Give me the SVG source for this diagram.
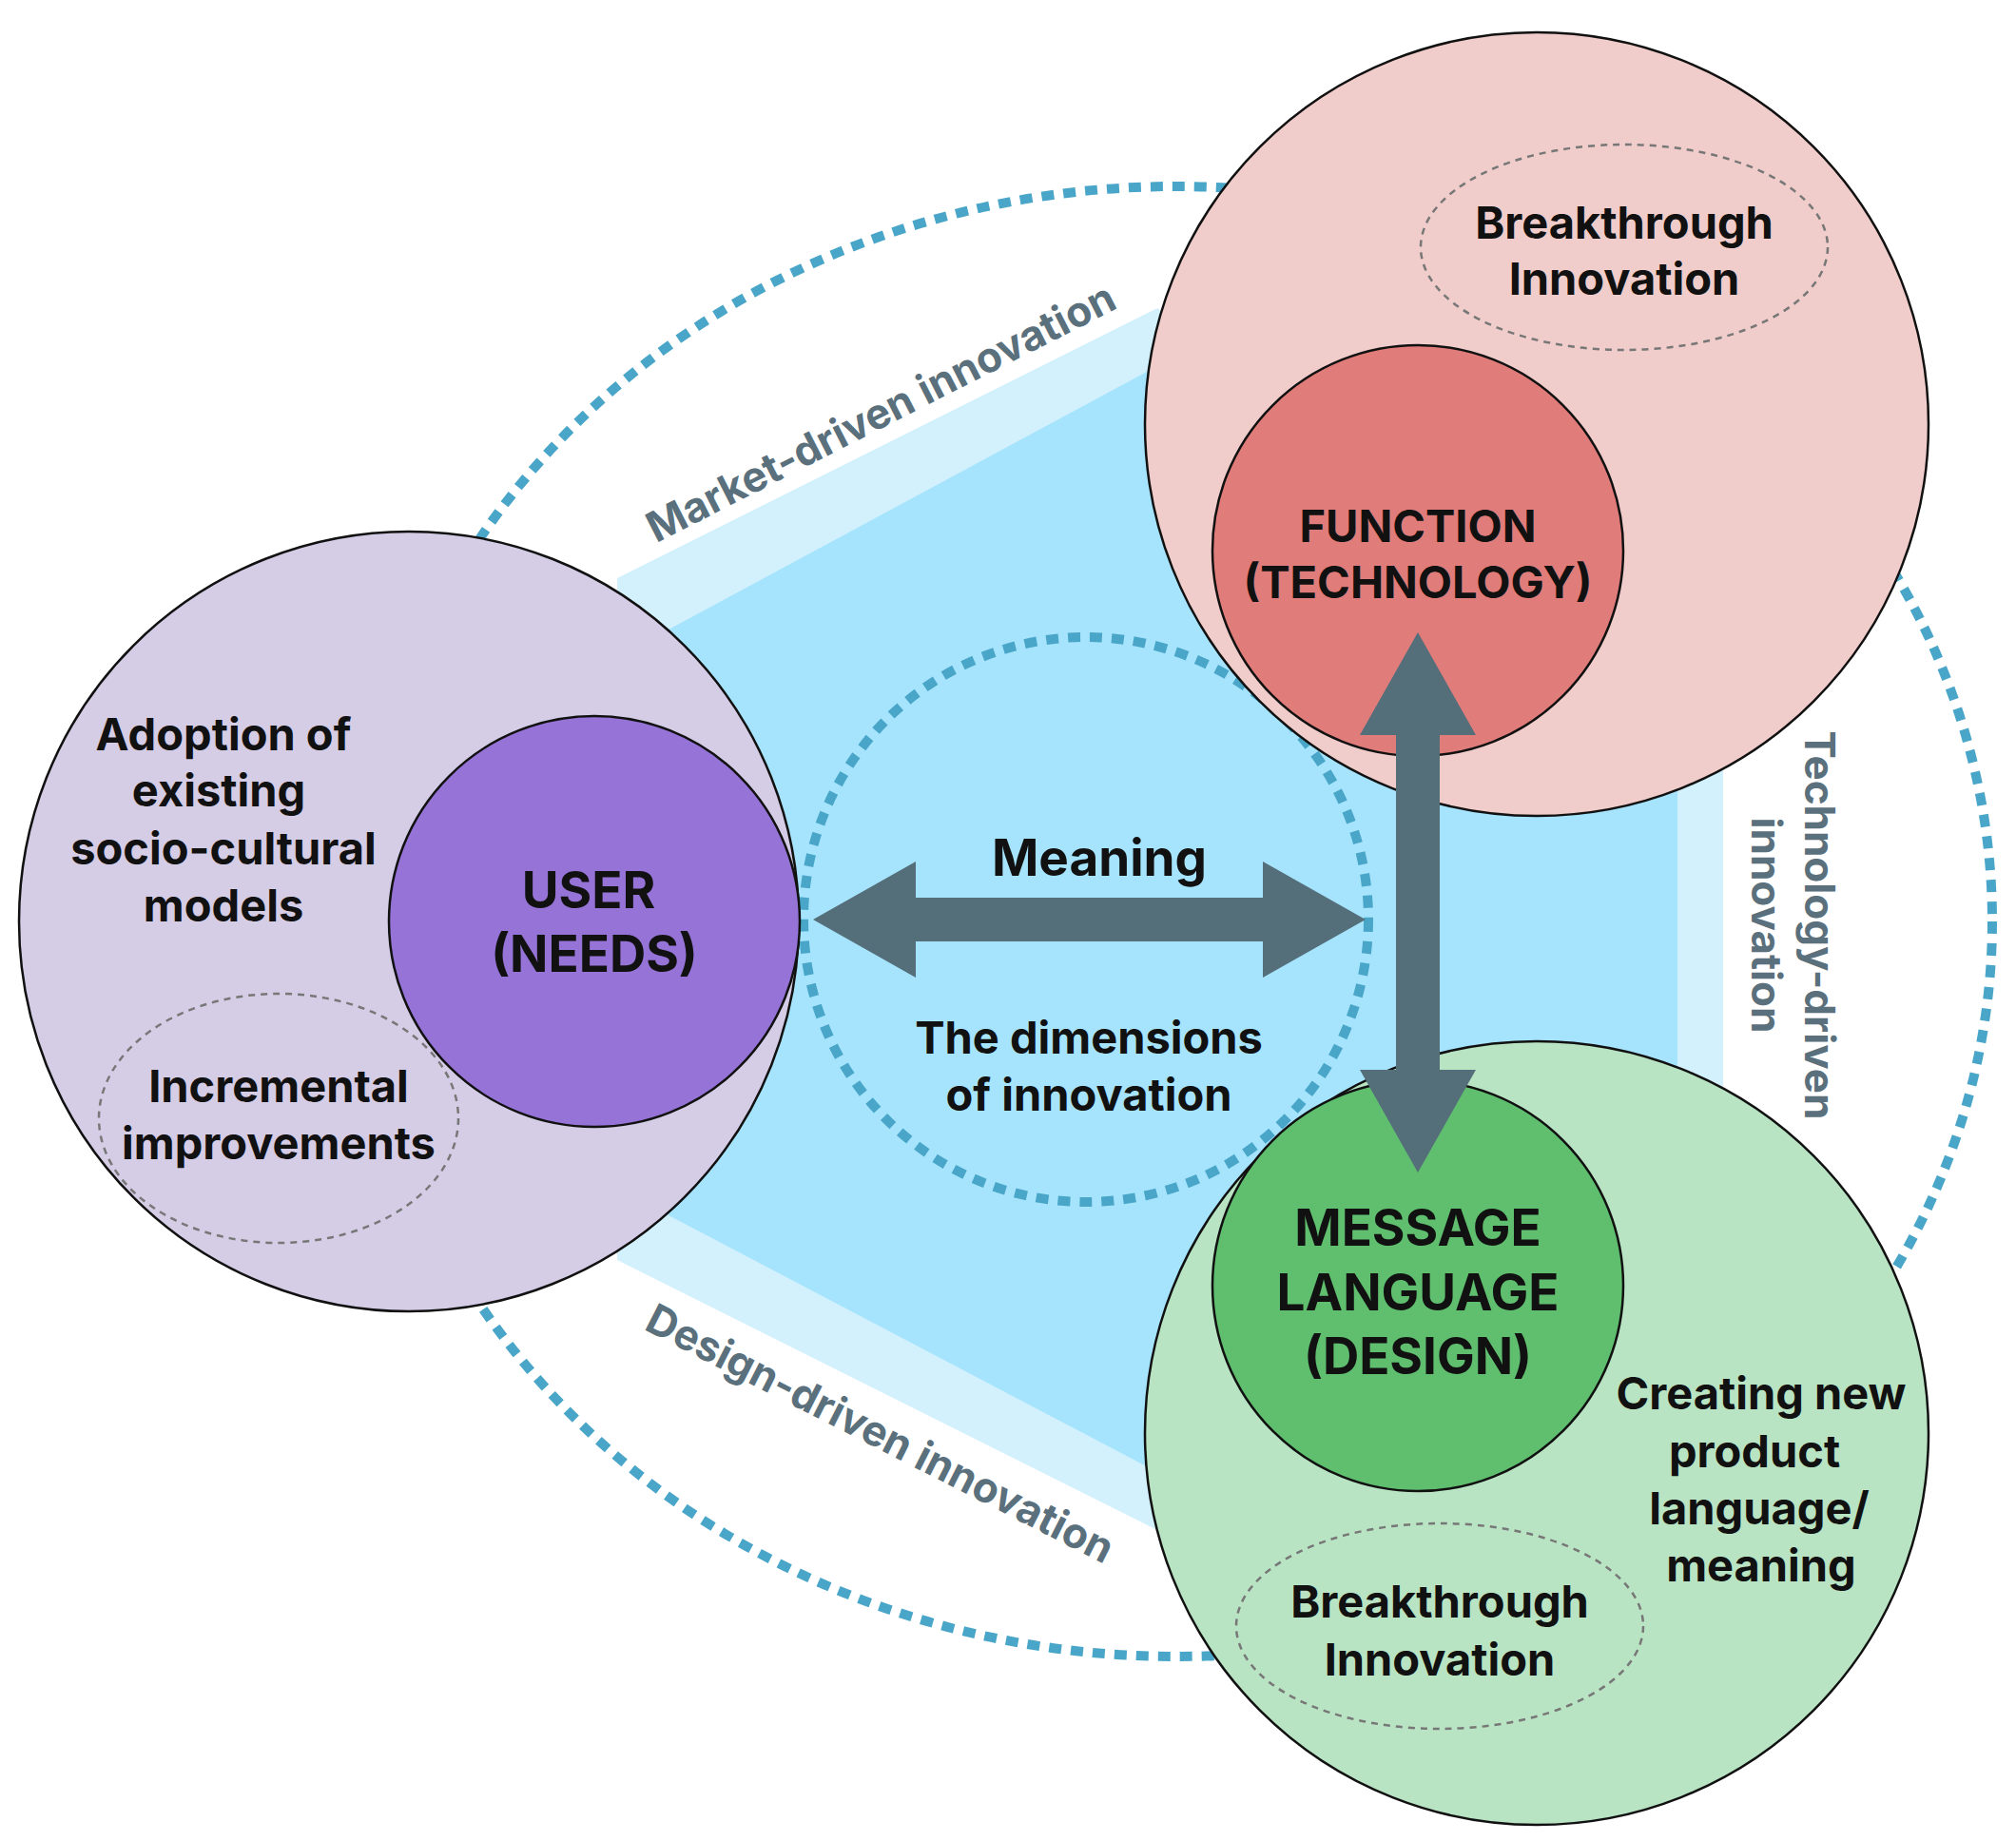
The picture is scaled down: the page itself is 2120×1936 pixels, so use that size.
<svg xmlns="http://www.w3.org/2000/svg" width="2120" height="1936" viewBox="0 0 2120 1936">
<style>
.t{font-family:Inter,"Liberation Sans",sans-serif;font-weight:700;fill:#111;text-anchor:middle;dominant-baseline:central}
.s{font-size:47px}.b{font-size:53px}
.lbl{font-family:Inter,"Liberation Sans",sans-serif;font-weight:700;fill:#5a707c;font-size:44px;text-anchor:middle;dominant-baseline:central}
.dot{fill:none;stroke:#4aa6c8;stroke-width:10;stroke-dasharray:13 10}
.dash{fill:none;stroke:#777;stroke-width:2.5;stroke-dasharray:7 6}
.c{stroke:#111;stroke-width:2.5}
</style>
<rect width="2120" height="1936" fill="#fff"/>
<g id="background">
<ellipse class="dot" cx="1237" cy="969" rx="858" ry="773"/>
<polygon points="649,608 1217,324 1812,703 1812,1163 1217,1609 649,1325" fill="#d3f1fd"/>
<polygon points="703,662 1217,385 1764,757 1764,1122 1217,1548 703,1278" fill="#a6e4fd"/>
<circle class="dot" cx="1142" cy="967" r="297"/>
</g>
<g id="labels">
<text class="lbl" transform="translate(926,433) rotate(-27)">Market-driven innovation</text>
<text class="lbl" transform="translate(926,1507) rotate(27)">Design-driven innovation</text>
<text class="lbl" transform="translate(1886,973) rotate(90)"><tspan x="0" y="-28">Technology-driven</tspan><tspan x="0" y="28">innovation</tspan></text>
<text class="t b" x="1156" y="902">Meaning</text>
<text class="t s" x="1145" y="1090">The dimensions</text>
<text class="t s" x="1145" y="1150">of innovation</text>
</g>
<g id="user">
<circle class="c" cx="430" cy="969" r="410" fill="#d5cce6"/>
<ellipse class="dash" cx="293" cy="1176" rx="189" ry="131"/>
<circle class="c" cx="625" cy="969" r="216" fill="#9673d6"/>
<text class="t s" x="235" y="771">Adoption of</text>
<text class="t s" x="230" y="830">existing</text>
<text class="t s" x="235" y="891">socio-cultural</text>
<text class="t s" x="235" y="951">models</text>
<text class="t b" x="619" y="936">USER</text>
<text class="t b" x="625" y="1003">(NEEDS)</text>
<text class="t s" x="293" y="1141">Incremental</text>
<text class="t s" x="293" y="1201">improvements</text>
</g>
<g id="function">
<circle class="c" cx="1616" cy="446" r="412" fill="#f0cdca"/>
<ellipse class="dash" cx="1708" cy="260" rx="214" ry="108"/>
<text class="t s" x="1708" y="233">Breakthrough</text>
<text class="t s" x="1708" y="292">Innovation</text>
<circle class="c" cx="1491" cy="579" r="216" fill="#e07c7a"/>
<text class="t s" x="1491" y="552">FUNCTION</text>
<text class="t s" x="1491" y="611">(TECHNOLOGY)</text>
</g>
<g id="message">
<circle class="c" cx="1616" cy="1507" r="412" fill="#b9e4c3"/>
<ellipse class="dash" cx="1514" cy="1710" rx="214" ry="108"/>
<text class="t s" x="1514" y="1683">Breakthrough</text>
<text class="t s" x="1514" y="1744">Innovation</text>
<circle class="c" cx="1491" cy="1352" r="216" fill="#5fbf6f"/>
<text class="t b" x="1491" y="1291">MESSAGE</text>
<text class="t b" x="1491" y="1359">LANGUAGE</text>
<text class="t b" x="1491" y="1426">(DESIGN)</text>
<text class="t s" x="1852" y="1464">Creating new</text>
<text class="t s" x="1845" y="1525">product</text>
<text class="t s" x="1850" y="1585">language/</text>
<text class="t s" x="1852" y="1645">meaning</text>
</g>
<g id="connectors" fill="#546e7a">
<polygon points="855,967 963,906 963,944 1328,944 1328,906 1436,967 1328,1028 1328,990 963,990 963,1028"/>
<polygon points="1491,665 1552,773 1514,773 1514,1125 1552,1125 1491,1233 1430,1125 1468,1125 1468,773 1430,773"/>
</g>
</svg>
